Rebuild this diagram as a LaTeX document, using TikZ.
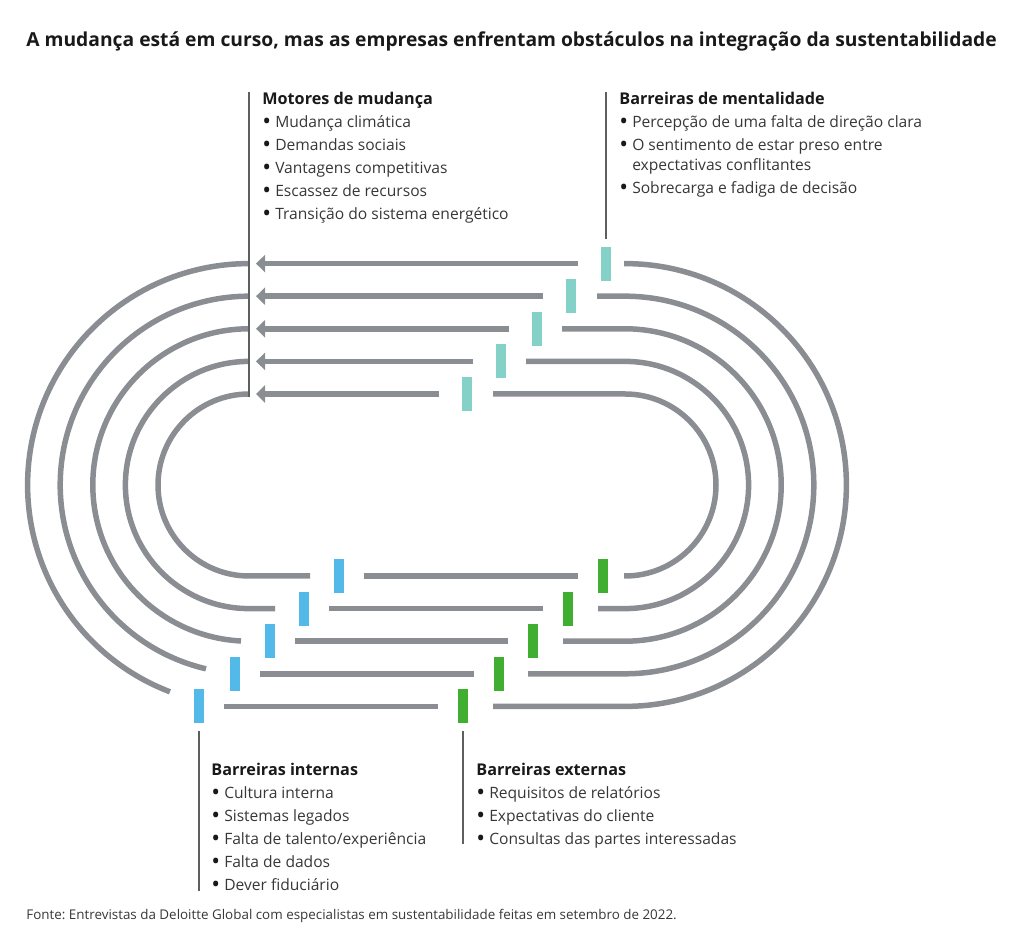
\documentclass[tikz,border=0pt]{standalone}
\usepackage{fontspec}
\setmainfont{Open Sans}
\usetikzlibrary{arrows.meta}
\frenchspacing

\definecolor{trackgray}{RGB}{138,141,145}
\definecolor{barteal}{RGB}{132,209,199}
\definecolor{barblue}{RGB}{82,185,232}
\definecolor{bargreen}{RGB}{64,174,48}
\definecolor{textgray}{RGB}{55,55,55}
\definecolor{headblack}{RGB}{25,25,25}
\definecolor{leadergray}{RGB}{95,95,95}

\newcommand\bdot{\raisebox{-0.1em}{\scalebox{1.5}{\color{headblack}\textbullet}}}
\newcommand\bitem[1]{\bdot\ #1}
\newcommand\blockhead[1]{{\fontsize{8.1}{11.5}\selectfont\bfseries\color{headblack}#1}}

\tikzset{
  track/.style={draw=trackgray, line width=2.75pt},
  leader/.style={draw=leadergray, line width=0.55pt},
  bar/.style={minimum width=5pt, minimum height=17pt, inner sep=0pt, outer sep=0pt},
  tealbar/.style={bar, fill=barteal},
  bluebar/.style={bar, fill=barblue},
  greenbar/.style={bar, fill=bargreen},
  block/.style={anchor=north west, inner sep=0pt, align=left,
    font=\fontsize{7.8}{11.5}\selectfont, text=textgray}
}

\begin{document}
\begin{tikzpicture}[x=0.5pt, y=-0.5pt]
  \useasboundingbox (0,0) rectangle (1024,945);

  % Title
  \node[anchor=base west, inner sep=0pt, font=\fontsize{9.63}{11}\selectfont\bfseries,
    text=headblack] (titulo) at (26,47)
    {A mudança está em curso, mas as empresas enfrentam obstáculos na integração da sustentabilidade};

  % Five tracks round the two centres (249,485) and (625,485), inner k=1 to outer k=5
  % r = radius, t/b/g = x of the teal, blue and green bars, s/f = ends of the right part
  \foreach \r/\t/\b/\g/\s/\f [count=\k] in {
      91/467/339/603/493/624,
      123.6/501/304/568/526/598,
      156.2/537/270/533/562/563,
      188.8/571/235/499/597/528,
      221.4/606/199/463/624/493} {
    \pgfmathsetmacro\yT{485-\r}
    \pgfmathsetmacro\yB{485+\r}
    \pgfmathsetmacro\e{\b-29}
    \coordinate (arc\k) at (249,\yT);

    % top: arrow back to the left
    \draw[track, -{Triangle[length=4.5pt, width=8.5pt]}] ({\t-28},\yT) -- (256,\yT);

    % left half circle, cut before the blue bar
    \ifdim\e pt<249pt
      \pgfmathsetmacro\a{acos((\e-249)/\r)}
      \draw[track] (arc\k) arc (270:\a:\r);
    \else
      \draw[track] (arc\k) arc (270:90:\r) -- (\e,\yB);
    \fi

    % bottom: between the blue and the green bar
    \draw[track] ({\b+25},\yB) -- ({\g-25},\yB);

    % right half circle
    \draw[track] (\s,\yT) -- (625,\yT) arc (-90:90:\r) -- (\f,\yB);

    % the bars in the gaps
    \node[tealbar] (mt\k) at (\t,\yT) {};
    \node[bluebar] (bi\k) at (\b,\yB) {};
    \node[greenbar] (be\k) at (\g,\yB) {};
  }

  % Text blocks
  \node[block] (motores) at (262,92) {\blockhead{Motores de mudança}\\
    \bitem{Mudança climática}\\
    \bitem{Demandas sociais}\\
    \bitem{Vantagens competitivas}\\
    \bitem{Escassez de recursos}\\
    \bitem{Transição do sistema energético}};

  \node[block] (mentalidade) at (619,92) {\blockhead{Barreiras de mentalidade}\\
    \bitem{Percepção de uma falta de direção clara}\\
    \bitem{O sentimento de estar preso entre}\\[-1.5pt]
    \hphantom{\bdot\ }expectativas conflitantes\\
    \bitem{Sobrecarga e fadiga de decisão}};

  \node[block] (internas) at (211,763) {\blockhead{Barreiras internas}\\
    \bitem{Cultura interna}\\
    \bitem{Sistemas legados}\\
    \bitem{Falta de talento/experiência}\\
    \bitem{Falta de dados}\\
    \bitem{Dever fiduciário}};

  \node[block] (externas) at (476,763) {\blockhead{Barreiras externas}\\
    \bitem{Requisitos de relatórios}\\
    \bitem{Expectativas do cliente}\\
    \bitem{Consultas das partes interessadas}};

  % Leader lines
  \draw[leader] (motores.north west -| arc1) -- ([yshift=-1.5pt]arc1);
  \draw[leader] (mentalidade.north west -| mt5) -- ([yshift=4pt]mt5.north);
  \draw[leader] ([yshift=-4pt]bi5.south) -- ([yshift=1pt]internas.south -| bi5);
  \draw[leader] ([yshift=-4pt]be5.south) -- ([yshift=2.5pt]externas.south -| be5);

  % Source
  \node[anchor=base west, inner sep=0pt, font=\fontsize{6.7}{8}\selectfont,
    text=textgray] (fonte) at (26,920)
    {Fonte: Entrevistas da Deloitte Global com especialistas em sustentabilidade feitas em setembro de 2022.};

\end{tikzpicture}
\end{document}
